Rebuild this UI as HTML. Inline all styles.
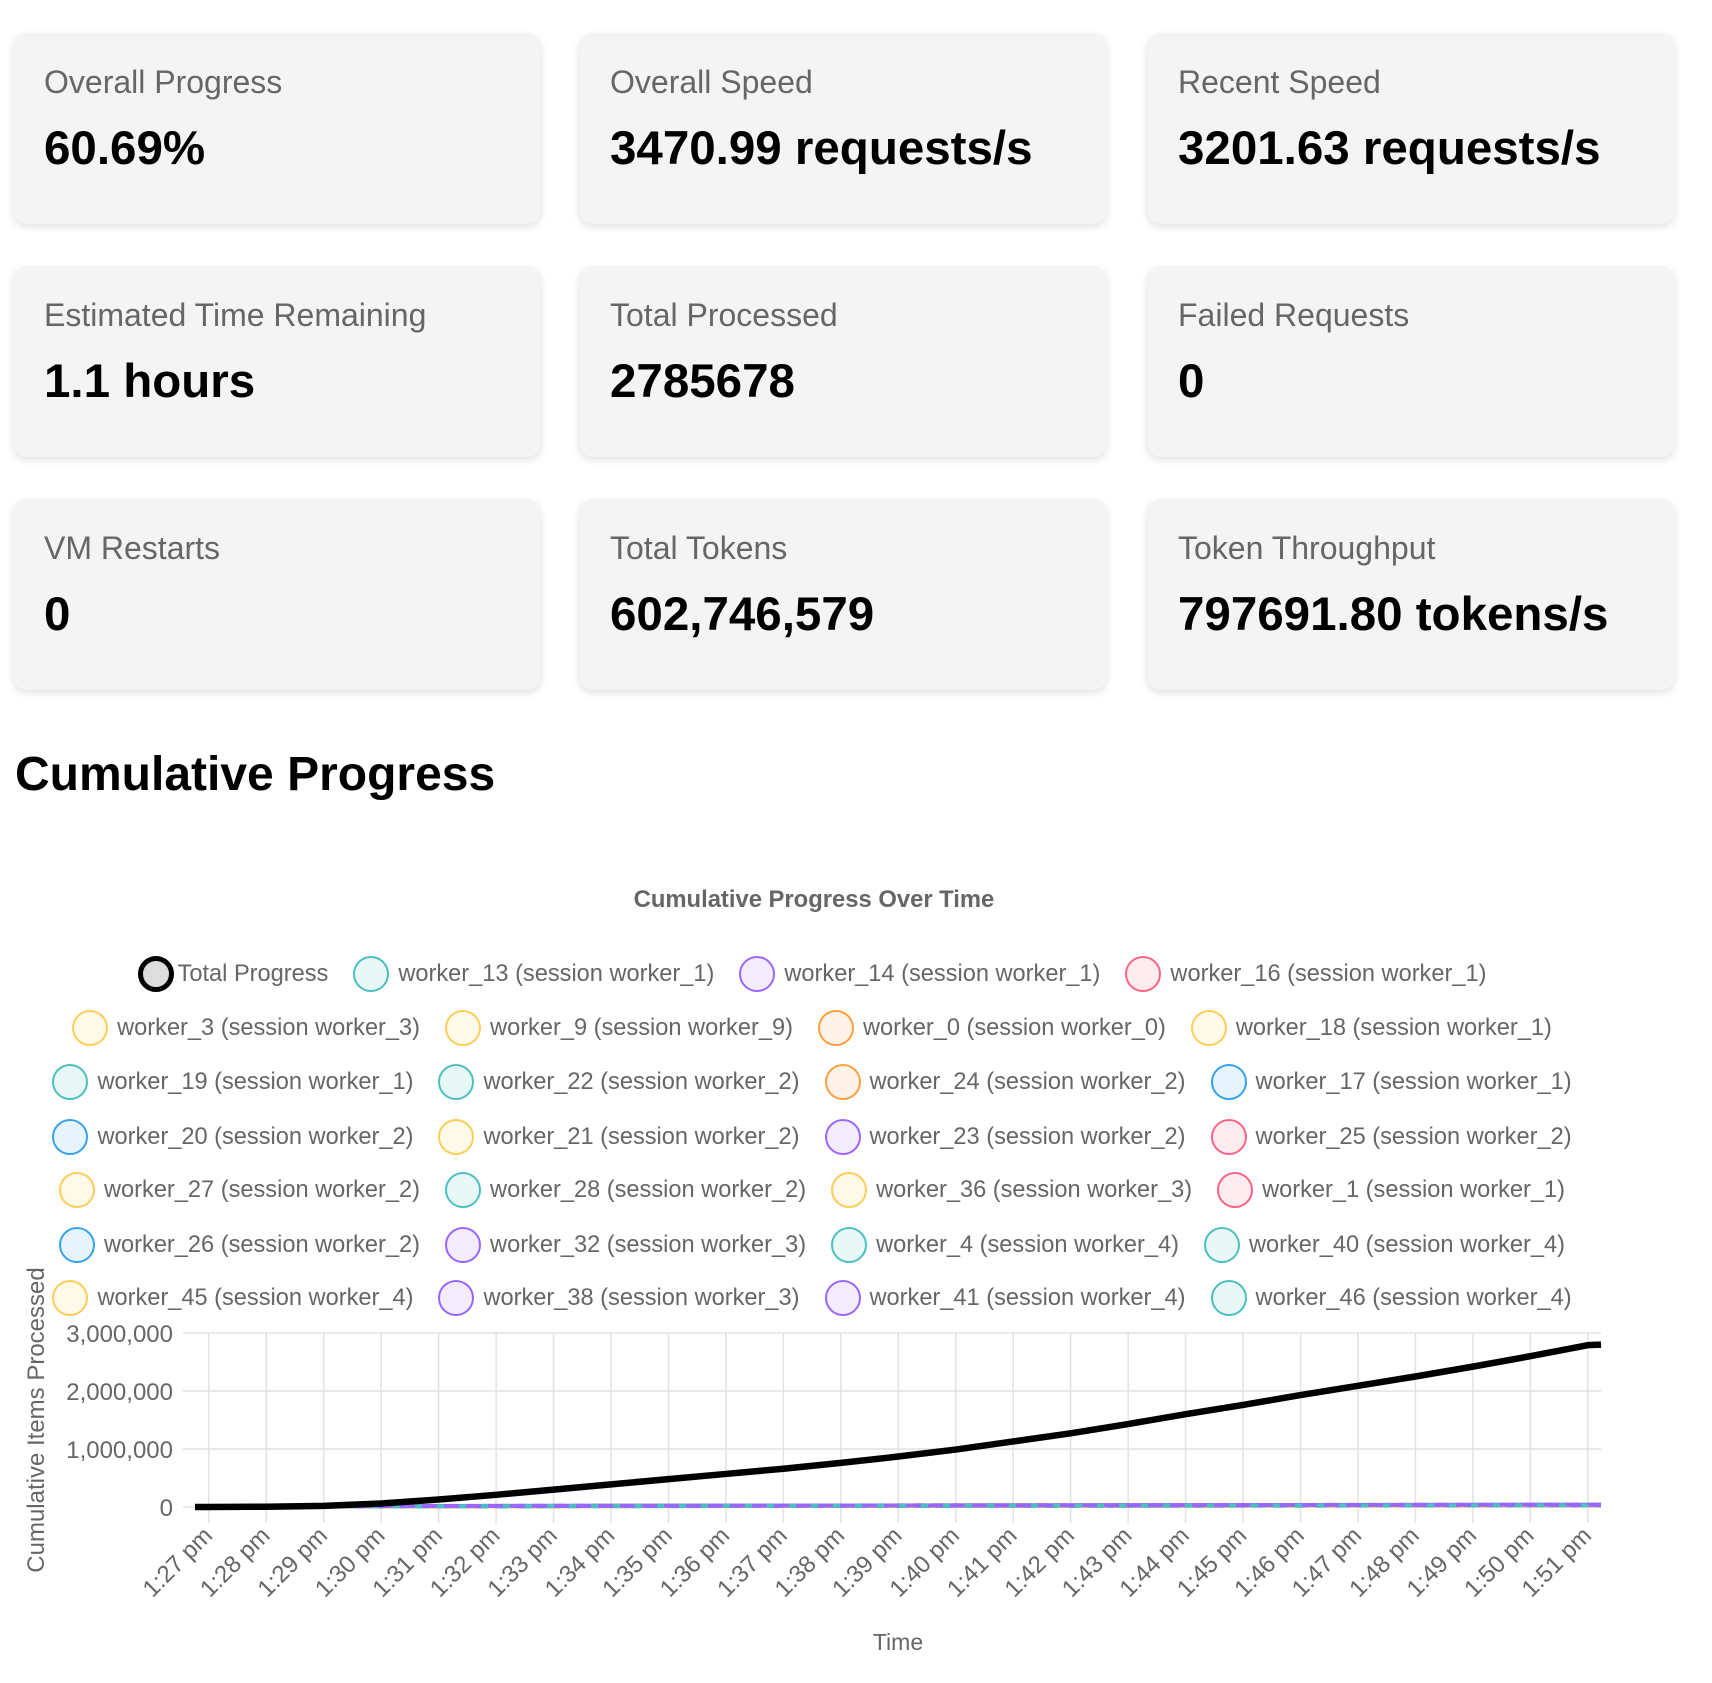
<!DOCTYPE html>
<html><head><meta charset="utf-8"><style>
body{margin:0;width:1712px;height:1683px;background:#fff;font-family:"Liberation Sans",Arial,sans-serif;position:relative;overflow:hidden}
.card{position:absolute;width:528px;height:191px;background:#f4f4f4;border-radius:14px;box-shadow:0 3px 8px rgba(0,0,0,.12)}
.card .l{position:absolute;left:31px;top:31px;font-size:32px;color:#666}
.card .v{position:absolute;left:31px;top:88px;font-size:47.5px;font-weight:bold;color:#000}
h2{position:absolute;left:15px;top:747px;margin:0;font-size:48px;font-weight:bold}
.leg{position:absolute;left:0;width:1624px;display:flex;justify-content:center;font-size:23.6px;color:#666;height:36px;align-items:center}
.it{display:flex;align-items:center;margin:0 12.5px;white-space:nowrap}
.dot{width:32px;height:32px;border-radius:50%;border:2px solid;margin-right:9px;box-sizing:content-box}
</style></head><body>
<div class="card" style="left:13px;top:33px"><div class="l">Overall Progress</div><div class="v">60.69%</div></div>
<div class="card" style="left:579px;top:33px"><div class="l">Overall Speed</div><div class="v">3470.99 requests/s</div></div>
<div class="card" style="left:1147px;top:33px"><div class="l">Recent Speed</div><div class="v">3201.63 requests/s</div></div>
<div class="card" style="left:13px;top:266px"><div class="l">Estimated Time Remaining</div><div class="v">1.1 hours</div></div>
<div class="card" style="left:579px;top:266px"><div class="l">Total Processed</div><div class="v">2785678</div></div>
<div class="card" style="left:1147px;top:266px"><div class="l">Failed Requests</div><div class="v">0</div></div>
<div class="card" style="left:13px;top:499px"><div class="l">VM Restarts</div><div class="v">0</div></div>
<div class="card" style="left:579px;top:499px"><div class="l">Total Tokens</div><div class="v">602,746,579</div></div>
<div class="card" style="left:1147px;top:499px"><div class="l">Token Throughput</div><div class="v">797691.80 tokens/s</div></div>
<h2>Cumulative Progress</h2>
<div id="legend"></div>
<svg id="chart" width="1712" height="1683" style="position:absolute;left:0;top:0;pointer-events:none"></svg>
<script>
const minutes = [26.76,27,28,29,30,31,32,33,34,35,36,37,38,39,40,41,42,43,44,45,46,47,48,49,50,51,51.23];
const totalProgress = [0,0,5000,20000,60000,130000,210000,300000,390000,480000,570000,660000,760000,870000,990000,1130000,1270000,1430000,1600000,1760000,1930000,2090000,2250000,2420000,2600000,2790000,2800000];
const workerNames = ["worker_13 (session worker_1)","worker_14 (session worker_1)","worker_16 (session worker_1)","worker_3 (session worker_3)","worker_9 (session worker_9)","worker_0 (session worker_0)","worker_18 (session worker_1)","worker_19 (session worker_1)","worker_22 (session worker_2)","worker_24 (session worker_2)","worker_17 (session worker_1)","worker_20 (session worker_2)","worker_21 (session worker_2)","worker_23 (session worker_2)","worker_25 (session worker_2)","worker_27 (session worker_2)","worker_28 (session worker_2)","worker_36 (session worker_3)","worker_1 (session worker_1)","worker_26 (session worker_2)","worker_32 (session worker_3)","worker_4 (session worker_4)","worker_40 (session worker_4)","worker_45 (session worker_4)","worker_38 (session worker_3)","worker_41 (session worker_4)","worker_46 (session worker_4)"];
const workerColors = ["teal","purple","red","yellow","yellow","orange","yellow","teal","teal","orange","blue","blue","yellow","purple","red","yellow","teal","yellow","red","blue","purple","teal","teal","yellow","purple","purple","teal"];
const workerTimes = [30.5,40,51.23];
const workerValues = [15000,25000,35000];
const yTicks = [0,1000000,2000000,3000000];
const yTickLabels = ["0","1,000,000","2,000,000","3,000,000"];
const xTicks = [27,28,29,30,31,32,33,34,35,36,37,38,39,40,41,42,43,44,45,46,47,48,49,50,51];

const pal={teal:["#4bc0c0","rgba(75,192,192,0.12)"],purple:["#9966ff","rgba(153,102,255,0.12)"],red:["#ff6384","rgba(255,99,132,0.12)"],yellow:["#ffcd56","rgba(255,205,86,0.12)"],orange:["#ff9f40","rgba(255,159,64,0.12)"],blue:["#36a2eb","rgba(54,162,235,0.12)"]};
const L=195,R=1601,T=1333,B=1507,X0=26.76,X1=51.23;
const xs=m=>L+(m-X0)/(X1-X0)*(R-L);
const ys=v=>B-v/3000000*(B-T);
const NS="http://www.w3.org/2000/svg";
const svg=document.getElementById('chart');
function mk(tag,at,txt){const e=document.createElementNS(NS,tag);for(const k in at)e.setAttribute(k,at[k]);if(txt!=null)e.textContent=txt;svg.appendChild(e);return e;}

const title=mk('text',{x:814,y:907,'text-anchor':'middle','font-size':23.8,'font-weight':'bold',fill:'#666','font-family':'Liberation Sans, sans-serif'},'Cumulative Progress Over Time');



yTicks.forEach((v,i)=>{
 const g=mk('line',{x1:L-12,x2:R,y1:ys(v),y2:ys(v),stroke:'#e2e2e2','stroke-width':1.5});
 
 
 const t=mk('text',{x:L-22,y:ys(v)+9,'text-anchor':'end','font-size':24,fill:'#666','font-family':'Liberation Sans, sans-serif'},yTickLabels[i]);
 
 
});
xTicks.forEach(m=>{
 const x=xs(m);
 const g=mk('line',{x1:x,x2:x,y1:T,y2:B+16,stroke:'#e2e2e2','stroke-width':1.5});
 
 
 const lab='1:'+m+' pm';
 const t=mk('text',{x:x+5,y:B+30,'text-anchor':'end','font-size':24,fill:'#666','font-family':'Liberation Sans, sans-serif',transform:`rotate(-45 ${x+5} ${B+30})`},lab);
 
 
});
const yt=mk('text',{x:44,y:1420,'text-anchor':'middle','font-size':24,fill:'#666','font-family':'Liberation Sans, sans-serif',transform:'rotate(-90 44 1420)'},'Cumulative Items Processed');


const xt=mk('text',{x:898,y:1650,'text-anchor':'middle','font-size':23,fill:'#666','font-family':'Liberation Sans, sans-serif'},'Time');



workerNames.forEach((n,i)=>{
 const pts=[[xs(X0),ys(0)],[xs(workerTimes[0]-3.5),ys(0)]].concat(workerTimes.map((t,j)=>[xs(t),ys(workerValues[j]*(0.8+0.4*((i*7)%10)/10))]));
 const p=mk('polyline',{points:pts.map(q=>q.join(',')).join(' '),fill:'none',stroke:pal[workerColors[i]][0],'stroke-width':4,'stroke-dasharray':(i%3===0?'none':(6+i%5)+' '+(10+i%7))});
 
 
});
const tl=mk('polyline',{points:minutes.map((m,i)=>xs(m)+','+ys(totalProgress[i])).join(' '),fill:'none',stroke:'#000','stroke-width':6.5,'stroke-linejoin':'round'});



const rows=[[-1,0,1,2],[3,4,5,6],[7,8,9,10],[11,12,13,14],[15,16,17,18],[19,20,21,22],[23,24,25,26]];
const rowY=[974,1028,1082,1137,1190,1245,1298];
const legend=document.getElementById('legend');
rows.forEach((r,ri)=>{
 const row=document.createElement('div');
 row.className='leg';
 row.style.top=(rowY[ri]-18)+'px';
 
 
 r.forEach(idx=>{
  const it=document.createElement('div');it.className='it';
  
  
  const d=document.createElement('div');d.className='dot';
  if(idx<0){d.style.borderColor='#000';d.style.borderWidth='5px';d.style.width='26px';d.style.height='26px';d.style.background='#ddd';d.style.marginRight='4px';}
  else{d.style.borderColor=pal[workerColors[idx]][0];d.style.background=pal[workerColors[idx]][1];}
  const s=document.createElement('span');s.textContent=idx<0?'Total Progress':workerNames[idx];
  it.appendChild(d);it.appendChild(s);row.appendChild(it);
 });
 legend.appendChild(row);
});
</script>
</body></html>
